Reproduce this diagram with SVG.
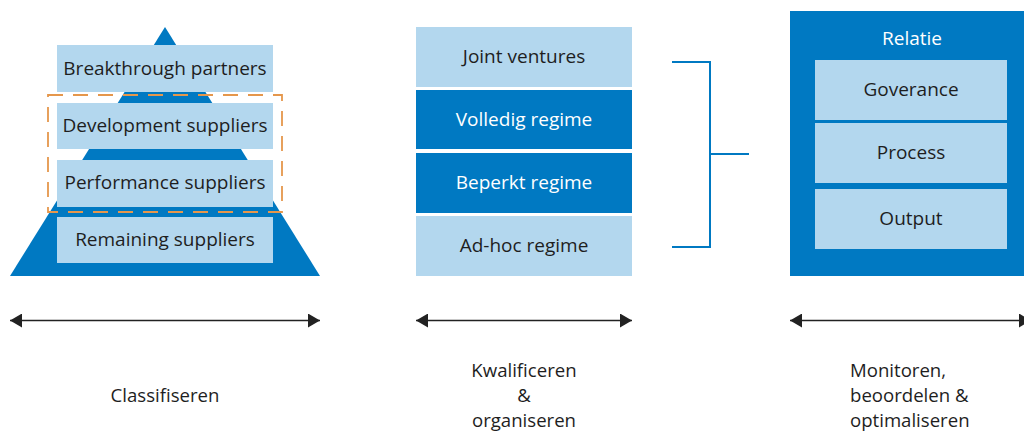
<svg xmlns="http://www.w3.org/2000/svg" width="1024" height="434" viewBox="0 0 1024 434">
  <defs>
    <style>
      .dark { fill: #0079c2; }
      .light { fill: #b3d7ee; }
      .lbl { font-family: "Open Sans", "Noto Sans", sans-serif; font-size: 19px; fill: #1e1e1e; text-anchor: middle; }
      .lbl-w { font-family: "Open Sans", "Noto Sans", sans-serif; font-size: 19px; fill: #ffffff; text-anchor: middle; }
      .cap { font-family: "Open Sans", "Noto Sans", sans-serif; font-size: 18.6px; fill: #1e1e1e; }
      .axis { stroke: #222222; stroke-width: 1.6; fill: none; }
      .bracket { stroke: #0079c2; stroke-width: 2; fill: none; }
    </style>
    <marker id="head" viewBox="0 0 12 14" refX="12" refY="7" markerWidth="12" markerHeight="14" markerUnits="userSpaceOnUse" orient="auto-start-reverse">
      <path d="M0,0 L12,7 L0,14 Z" fill="#222222"/>
    </marker>
  </defs>

  <rect width="1024" height="434" fill="#ffffff"/>

  <!-- Supplier pyramid -->
  <g id="pyramid">
    <polygon class="dark" points="165,27 320,276 10,276"/>
  </g>
  <g id="breakthrough">
    <rect class="light" x="57" y="45" width="216" height="47"/>
    <text class="lbl" x="165" y="75">Breakthrough partners</text>
  </g>
  <g id="development">
    <rect class="light" x="57" y="103" width="216" height="46"/>
    <text class="lbl" x="165" y="132">Development suppliers</text>
  </g>
  <g id="performance">
    <rect class="light" x="57" y="160" width="216" height="47"/>
    <text class="lbl" x="165" y="189">Performance suppliers</text>
  </g>
  <g id="remaining">
    <rect class="light" x="57" y="217" width="216" height="46"/>
    <text class="lbl" x="165" y="246">Remaining suppliers</text>
  </g>
  <g id="focus-group">
    <rect x="48" y="95" width="234" height="117" fill="none" stroke="#e5974c" stroke-width="1.8" stroke-dasharray="15 10"/>
  </g>

  <!-- Regime stack -->
  <g id="joint-ventures">
    <rect class="light" x="416" y="27" width="216" height="60"/>
    <text class="lbl" x="524" y="63">Joint ventures</text>
  </g>
  <g id="volledig">
    <rect class="dark" x="416" y="90" width="216" height="59"/>
    <text class="lbl-w" x="524" y="126">Volledig regime</text>
  </g>
  <g id="beperkt">
    <rect class="dark" x="416" y="153" width="216" height="60"/>
    <text class="lbl-w" x="524" y="189">Beperkt regime</text>
  </g>
  <g id="adhoc">
    <rect class="light" x="416" y="216" width="216" height="60"/>
    <text class="lbl" x="524" y="252">Ad-hoc regime</text>
  </g>

  <!-- Relationship block -->
  <g id="relatie">
    <rect class="dark" x="790" y="11" width="234" height="265"/>
    <text class="lbl-w" x="912" y="45">Relatie</text>
  </g>
  <g id="governance">
    <rect class="light" x="815" y="60" width="192" height="60"/>
    <text class="lbl" x="911" y="96">Goverance</text>
  </g>
  <g id="process">
    <rect class="light" x="815" y="123" width="192" height="60"/>
    <text class="lbl" x="911" y="159">Process</text>
  </g>
  <g id="output">
    <rect class="light" x="815" y="189" width="192" height="60"/>
    <text class="lbl" x="911" y="225">Output</text>
  </g>

  <!-- Connectors -->
  <g id="connectors">
    <path class="bracket" d="M672,62 H710 V247 H672 M710,154 H749"/>
    <line class="axis" x1="10" y1="320.5" x2="320" y2="320.5" marker-start="url(#head)" marker-end="url(#head)"/>
    <line class="axis" x1="416" y1="320.5" x2="632" y2="320.5" marker-start="url(#head)" marker-end="url(#head)"/>
    <line class="axis" x1="790" y1="320.5" x2="1031" y2="320.5" marker-start="url(#head)" marker-end="url(#head)"/>
  </g>

  <!-- Phase captions -->
  <g id="captions">
    <text class="cap" x="165" y="402" text-anchor="middle">Classifiseren</text>
    <text class="cap" x="524" y="377" text-anchor="middle">Kwalificeren</text>
    <text class="cap" x="524" y="402" text-anchor="middle">&amp;</text>
    <text class="cap" x="524" y="427" text-anchor="middle">organiseren</text>
    <text class="cap" x="850" y="377">Monitoren,</text>
    <text class="cap" x="850" y="402">beoordelen &amp;</text>
    <text class="cap" x="850" y="427">optimaliseren</text>
  </g>
</svg>
